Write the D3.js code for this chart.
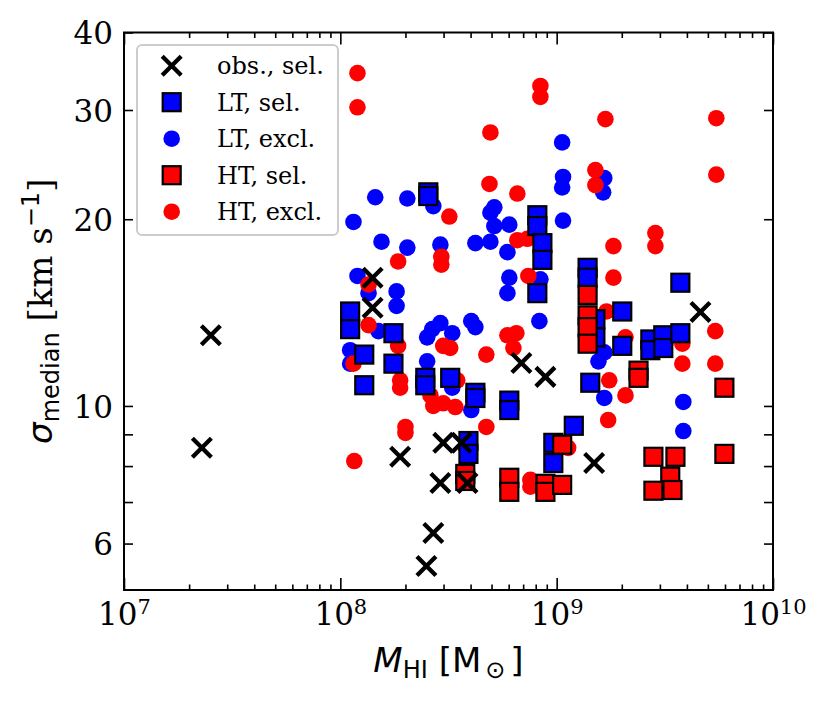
<!DOCTYPE html>
<html>
<head>
<meta charset="utf-8">
<script src="https://cdn.jsdelivr.net/npm/d3@7"></script>
<style>
  html, body { margin: 0; padding: 0; background: #fff; }
  svg { display: block; }
</style>
</head>
<body>
<div id="chart"></div>
<script>
// --------------- Data ---------------
// observed, selected
const obsMass = [2.52e7, 2.29e7, 1.41e8, 1.41e8, 1.89e8, 2.99e8, 3.63e8, 2.90e8, 3.87e8, 2.69e8, 2.50e8, 6.87e8, 8.87e8, 1.49e9, 4.62e9];
const obsSigma = [13.0, 8.56, 16.1, 14.4, 8.28, 8.72, 8.72, 7.51, 7.51, 6.24, 5.52, 11.73, 11.14, 8.09, 14.17];

// LT, selected
const ltSelMass = [1.11e8, 1.11e8, 1.29e8, 1.29e8, 1.76e8, 1.76e8, 2.47e8, 2.47e8, 3.22e8, 2.55e8, 2.55e8, 4.21e8, 4.21e8, 6.04e8, 6.04e8, 3.91e8, 3.91e8, 8.14e8, 8.14e8, 8.59e8, 8.59e8, 8.14e8, 1.39e9, 1.39e9, 1.51e9, 1.51e9, 2.01e9, 2.01e9, 3.73e9, 2.71e9, 2.71e9, 3.11e9, 3.11e9, 3.73e9, 1.43e9, 1.20e9, 9.65e8, 9.65e8];
const ltSelSigma = [14.2, 13.3, 12.1, 10.8, 13.1, 11.7, 11.1, 10.8, 11.1, 22.1, 21.8, 10.5, 10.3, 10.2, 9.85, 8.78, 8.37, 20.3, 19.5, 18.3, 17.2, 15.2, 16.7, 16.1, 13.8, 12.9, 14.2, 12.5, 15.8, 12.8, 12.3, 13.0, 12.4, 13.1, 10.9, 9.29, 8.72, 8.09];

// LT, excluded
const ltExclMass = [1.15e8, 1.45e8, 2.04e8, 2.69e8, 1.55e8, 2.04e8, 2.90e8, 4.21e8, 4.94e8, 5.15e8, 4.94e8, 5.15e8, 6.04e8, 5.92e8, 1.20e8, 1.35e8, 1.82e8, 1.82e8, 6.04e8, 5.92e8, 2.90e8, 2.66e8, 2.52e8, 3.29e8, 4.03e8, 4.21e8, 8.32e8, 8.41e8, 1.50e8, 1.06e9, 1.07e9, 1.06e9, 1.07e9, 1.66e9, 1.64e9, 1.11e8, 1.11e8, 2.52e8, 3.29e8, 4.03e8, 1.56e9, 1.66e9, 1.66e9, 3.85e9, 3.85e9];
const ltExclSigma = [19.8, 21.7, 21.6, 21.0, 18.4, 18.0, 18.2, 18.3, 18.4, 20.9, 20.5, 19.5, 19.6, 17.7, 16.2, 15.2, 15.3, 14.5, 16.1, 15.2, 13.6, 13.3, 12.9, 13.1, 13.7, 13.4, 13.7, 16.0, 13.2, 26.6, 23.4, 22.5, 19.9, 23.3, 22.1, 12.3, 11.7, 11.8, 10.7, 9.85, 11.8, 12.2, 10.3, 10.15, 9.11];

// HT, selected
const htSelMass = [1.39e9, 1.39e9, 1.39e9, 1.39e9, 2.39e9, 2.39e9, 5.96e9, 5.96e9, 1.06e9, 8.87e8, 8.87e8, 1.06e9, 3.78e8, 3.78e8, 6.04e8, 6.04e8, 2.80e9, 3.54e9, 3.35e9, 2.80e9, 3.43e9];
const htSelSigma = [15.1, 14.0, 13.4, 12.6, 11.4, 11.1, 10.7, 8.37, 8.66, 7.49, 7.27, 7.46, 7.77, 7.57, 7.66, 7.27, 8.28, 8.28, 7.69, 7.30, 7.32];

// HT, excluded
const htExclMass = [1.20e8, 1.20e8, 4.94e8, 8.41e8, 8.41e8, 1.68e9, 5.47e9, 1.51e9, 1.51e9, 5.47e9, 4.89e8, 6.58e8, 3.19e8, 2.86e9, 2.86e9, 1.83e9, 6.58e8, 7.32e8, 2.93e8, 2.93e8, 1.85e8, 7.40e8, 1.83e9, 1.35e8, 1.35e8, 1.85e8, 1.15e8, 2.99e8, 3.22e8, 5.92e8, 6.51e8, 6.31e8, 4.73e8, 1.70e9, 5.41e9, 2.08e9, 3.81e9, 3.81e9, 5.41e9, 1.75e9, 2.08e9, 1.73e9, 1.13e9, 7.56e8, 7.56e8, 4.73e8, 2.00e8, 2.00e8, 1.16e8, 1.89e8, 1.89e8, 2.61e8, 2.69e8, 2.99e8, 3.40e8, 3.47e8];
const htExclSigma = [34.4, 30.3, 27.6, 32.8, 31.5, 29.0, 29.1, 24.0, 22.7, 23.6, 22.8, 22.0, 20.2, 19.0, 18.1, 18.1, 18.5, 18.6, 17.4, 16.9, 17.1, 16.2, 16.1, 15.7, 13.5, 12.5, 11.7, 12.5, 12.4, 13.0, 13.1, 12.4, 12.1, 14.2, 13.2, 12.9, 12.6, 11.7, 11.7, 11.0, 10.4, 9.49, 8.56, 7.60, 7.41, 9.25, 9.25, 9.05, 8.15, 11.0, 10.7, 10.4, 10.0, 10.1, 9.96, 11.0];

// ticks
const xMajorTicks = [1e7, 1e8, 1e9, 1e10];
const xExponents = ["7", "8", "9", "10"];
const yTicks = [6, 7, 8, 9, 10, 20, 30, 40];
const yTickLabels = ["6", "", "", "", "10", "20", "30", "40"];
const legendLabels = ["obs., sel.", "LT, sel.", "LT, excl.", "HT, sel.", "HT, excl."];

// --------------- Constants ---------------
const WIDTH = 830;
const HEIGHT = 701;
const MARGIN = { left: 124, right: 57, top: 32.5, bottom: 111 };
const BLUE = "#0000ff";
const RED = "#ff0000";
const SERIF = "'DejaVu Serif', serif";
const SANS = "'DejaVu Sans', sans-serif";
const SQ = 18;     // square marker side
const DOT_R = 8.3; // circle marker radius
const X_STROKE = 4.3;

const zip = (xs, ys) => xs.map((x, i) => ({ x, y: ys[i] }));

// --------------- Prep SVG ---------------
const svg = d3.select("#chart").append("svg")
  .attr("width", WIDTH)
  .attr("height", HEIGHT);

const x = d3.scaleLog().domain([1e7, 1e10]).range([MARGIN.left, WIDTH - MARGIN.right]);
const y = d3.scaleLog().domain([5.05, 40]).range([HEIGHT - MARGIN.bottom, MARGIN.top]);

const [x0, x1] = x.range();
const [y0, y1] = y.range(); // y0 bottom, y1 top

// minor x ticks: 2..9 in each decade
const xMinorTicks = [];
[1e7, 1e8, 1e9].forEach((d) => {
  for (let k = 2; k <= 9; k++) xMinorTicks.push(k * d);
});

function styleAxis(g) {
  g.select(".domain").remove();
  g.selectAll(".tick line").attr("stroke", "#000").attr("stroke-width", 1.6);
}

// bottom / top axes
svg.append("g")
  .attr("transform", `translate(0,${y0})`)
  .call(d3.axisBottom(x).tickValues(xMinorTicks).tickSize(-5.5).tickSizeOuter(0).tickFormat(() => ""))
  .call(styleAxis);
svg.append("g")
  .attr("transform", `translate(0,${y1})`)
  .call(d3.axisTop(x).tickValues(xMinorTicks).tickSize(-5.5).tickSizeOuter(0).tickFormat(() => ""))
  .call(styleAxis);
svg.append("g")
  .attr("transform", `translate(0,${y1})`)
  .call(d3.axisTop(x).tickValues(xMajorTicks).tickSize(-12).tickSizeOuter(0).tickFormat(() => ""))
  .call(styleAxis);

const xAxis = svg.append("g")
  .attr("transform", `translate(0,${y0})`)
  .call(d3.axisBottom(x).tickValues(xMajorTicks).tickSize(-12).tickSizeOuter(0).tickFormat(() => ""))
  .call(styleAxis);

xAxis.selectAll(".tick text")
  .attr("y", 35)
  .attr("dy", 0)
  .attr("fill", "#000")
  .style("font-family", SERIF)
  .style("font-size", "31px")
  .each(function (_d, i) {
    const t = d3.select(this);
    t.append("tspan").text("10");
    t.append("tspan").attr("dy", -11).style("font-size", "21px").text(xExponents[i]);
  });

// left / right axes
const yAxis = svg.append("g")
  .attr("transform", `translate(${x0},0)`)
  .call(d3.axisLeft(y).tickValues(yTicks).tickSize(-9).tickSizeOuter(0)
    .tickPadding(11).tickFormat((_d, i) => yTickLabels[i]))
  .call(styleAxis);

yAxis.selectAll(".tick text")
  .attr("x", -11)
  .attr("dy", "0.36em")
  .attr("fill", "#000")
  .style("font-family", SERIF)
  .style("font-size", "31px");

svg.append("g")
  .attr("transform", `translate(${x1},0)`)
  .call(d3.axisRight(y).tickValues(yTicks).tickSize(-9).tickSizeOuter(0).tickFormat(() => ""))
  .call(styleAxis);

// frame
svg.append("rect")
  .attr("x", x0)
  .attr("y", y1)
  .attr("width", x1 - x0)
  .attr("height", y0 - y1)
  .attr("fill", "none")
  .attr("stroke", "#000")
  .attr("stroke-width", 2);

// --------------- Markers ---------------
const plot = svg.append("g");

const xSymbol = d3.symbol().type(d3.symbolTimes).size(237);

function drawDots(data, color) {
  plot.append("g")
    .selectAll("circle")
    .data(data)
    .join("circle")
    .attr("cx", (d) => x(d.x))
    .attr("cy", (d) => y(d.y))
    .attr("r", DOT_R)
    .attr("fill", color);
}

function drawSquares(data, color) {
  plot.append("g")
    .selectAll("rect")
    .data(data)
    .join("rect")
    .attr("x", (d) => x(d.x) - SQ / 2)
    .attr("y", (d) => y(d.y) - SQ / 2)
    .attr("width", SQ)
    .attr("height", SQ)
    .attr("fill", color)
    .attr("stroke", "#000")
    .attr("stroke-width", 2.2);
}

drawDots(zip(ltExclMass, ltExclSigma), BLUE);
drawDots(zip(htExclMass, htExclSigma), RED);
drawSquares(zip(ltSelMass, ltSelSigma), BLUE);
drawSquares(zip(htSelMass, htSelSigma), RED);

plot.append("g")
  .selectAll("path")
  .data(zip(obsMass, obsSigma))
  .join("path")
  .attr("transform", (d) => `translate(${x(d.x)},${y(d.y)})`)
  .attr("d", xSymbol)
  .attr("fill", "none")
  .attr("stroke", "#000")
  .attr("stroke-width", X_STROKE);

// --------------- Axis labels ---------------
const xLabel = svg.append("text")
  .attr("x", (x0 + x1) / 2)
  .attr("y", 672)
  .attr("text-anchor", "middle")
  .style("font-family", SANS)
  .style("font-size", "34px");
xLabel.append("tspan").style("font-style", "italic").text("M");
xLabel.append("tspan").attr("dy", 6).style("font-size", "24px").text("HI");
xLabel.append("tspan").attr("dy", -6).text(" [M");
xLabel.append("tspan").attr("dy", 6).attr("dx", 4).style("font-size", "24px").text("⊙");
xLabel.append("tspan").attr("dy", -6).attr("dx", 5).text("]");

const yLabel = svg.append("text")
  .attr("transform", `translate(52,${(y0 + y1) / 2}) rotate(-90)`)
  .attr("text-anchor", "middle")
  .style("font-size", "34px");
yLabel.append("tspan").style("font-family", SANS).style("font-style", "italic").text("σ");
yLabel.append("tspan").attr("dy", 7).style("font-family", SANS).style("font-size", "24px").text("median");
yLabel.append("tspan").attr("dy", -7).style("font-family", SERIF).text(" [km s");
yLabel.append("tspan").attr("dy", -13).style("font-family", SANS).style("font-size", "24px").text("−1");
yLabel.append("tspan").attr("dy", 13).style("font-family", SERIF).text("]");

// --------------- Legend ---------------
const legend = svg.append("g");
legend.append("rect")
  .attr("x", 137)
  .attr("y", 45)
  .attr("width", 201)
  .attr("height", 190)
  .attr("rx", 5)
  .attr("fill", "#fff")
  .attr("fill-opacity", 0.8)
  .attr("stroke", "#cccccc")
  .attr("stroke-width", 2);

const rowY = (i) => 65.7 + i * 36.5;
const markX = 171.7;

legend.append("path")
  .attr("transform", `translate(${markX},${rowY(0)})`)
  .attr("d", xSymbol)
  .attr("fill", "none")
  .attr("stroke", "#000")
  .attr("stroke-width", X_STROKE);

[[1, BLUE], [3, RED]].forEach(([i, c]) => {
  legend.append("rect")
    .attr("x", markX - SQ / 2)
    .attr("y", rowY(i) - SQ / 2)
    .attr("width", SQ)
    .attr("height", SQ)
    .attr("fill", c)
    .attr("stroke", "#000")
    .attr("stroke-width", 2.2);
});
[[2, BLUE], [4, RED]].forEach(([i, c]) => {
  legend.append("circle")
    .attr("cx", markX)
    .attr("cy", rowY(i))
    .attr("r", DOT_R)
    .attr("fill", c);
});

legend.selectAll("text")
  .data(legendLabels)
  .join("text")
  .attr("x", 217)
  .attr("y", (_d, i) => rowY(i))
  .attr("dy", "0.36em")
  .style("font-family", SERIF)
  .style("font-size", "24px")
  .text((d) => d);
</script>
</body>
</html>
